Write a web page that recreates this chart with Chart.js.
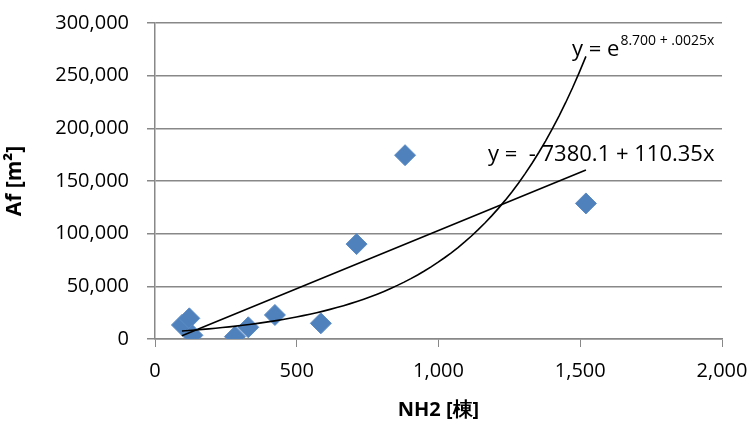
<!DOCTYPE html>
<html>
<head>
<meta charset="utf-8">
<script src="https://cdn.jsdelivr.net/npm/chart.js@4"></script>
<style>
  html, body { margin: 0; padding: 0; background: #fff; }
  #wrap { width: 751px; height: 428px; }
</style>
</head>
<body>
<div id="wrap"><canvas id="scatterChart" width="751" height="428"></canvas></div>
<script>
// number of houses (NH2) vs floor area (Af)
const nh2 = [95, 121, 132, 282, 329, 423, 585, 711, 882, 1520];
const af = [13300, 19600, 3500, 2200, 11100, 22800, 14900, 90100, 174500, 128700];

const xTicks = [0, 500, 1000, 1500, 2000];
const yTicks = [0, 50000, 100000, 150000, 200000, 250000, 300000];

// trend line coefficients (as printed on the chart)
const linA = -7380.1, linB = 110.35;
const expA = 8.700, expB = 0.0025;

const xMin = Math.min(...nh2), xMax = Math.max(...nh2);

const linLine = [xMin, xMax].map(x => ({ x: x, y: linA + linB * x }));
const expLine = [];
for (let i = 0; i <= 60; i++) {
    const x = xMin + (xMax - xMin) * i / 60;
    expLine.push({ x: x, y: Math.exp(expA + expB * x) });
}

const FONT = "'Open Sans', 'Liberation Sans', sans-serif";
const fmt = v => v.toLocaleString('en-US');

// equation labels next to the trend lines
const equationLabels = {
    id: 'equationLabels',
    afterDraw(chart) {
        const ctx = chart.ctx;
        const area = chart.chartArea;
        ctx.save();
        ctx.fillStyle = '#000';
        ctx.textBaseline = 'alphabetic';

        // exponential
        let x = area.right - 150, y = 56;
        ctx.font = '22px ' + FONT;
        ctx.fillText('y = e', x, y);
        x += ctx.measureText('y = e').width + 1;
        ctx.font = '14px ' + FONT;
        ctx.fillText('8.700 + .0025x', x, y - 11);

        // linear
        ctx.font = '22px ' + FONT;
        ctx.fillText('y =  - 7380.1 + 110.35x', area.right - 234, 161);
        ctx.restore();
    }
};

const ctx = document.getElementById('scatterChart').getContext('2d');
const scatterChart = new Chart(ctx, {
    type: 'scatter',
    data: {
        datasets: [
            {
                label: 'Af',
                data: nh2.map((x, i) => ({ x: x, y: af[i] })),
                pointStyle: 'rectRot',
                pointRadius: 10.5,
                pointHoverRadius: 10.5,
                backgroundColor: '#4F81BD',
                borderColor: '#5b8cc6',
                borderWidth: 1,
                order: 2
            },
            {
                label: 'linear',
                data: linLine,
                showLine: true,
                pointRadius: 0,
                borderColor: '#000',
                borderWidth: 1.6,
                order: 1
            },
            {
                label: 'exp',
                data: expLine,
                showLine: true,
                pointRadius: 0,
                borderColor: '#000',
                borderWidth: 1.6,
                tension: 0,
                order: 1
            }
        ]
    },
    options: {
        responsive: false,
        animation: false,
        layout: { padding: { left: 0, right: 29, top: 23, bottom: 0 } },
        plugins: {
            legend: { display: false },
            tooltip: { enabled: false }
        },
        scales: {
            x: {
                type: 'linear',
                min: 0,
                max: 2000,
                afterBuildTicks: s => { s.ticks = xTicks.map(v => ({ value: v })); },
                afterFit: s => { s.height = 89; s.paddingLeft = 0; s.paddingRight = 0; },
                grid: { drawOnChartArea: false, drawTicks: true, tickLength: 8, color: '#888' },
                border: { color: '#888', width: 1.5 },
                ticks: { color: '#000', font: { family: FONT, size: 20 }, padding: 12, maxRotation: 0, callback: v => fmt(v) },
                title: { display: true, text: 'NH2 [棟]', color: '#000', font: { family: FONT, size: 20, weight: 'bold' }, padding: { top: 4, bottom: 6 } }
            },
            y: {
                type: 'linear',
                min: 0,
                max: 300000,
                afterBuildTicks: s => { s.ticks = yTicks.map(v => ({ value: v })); },
                afterFit: s => { s.width = 155; s.paddingTop = 0; s.paddingBottom = 0; },
                grid: { color: '#888', lineWidth: 1.5, tickLength: 8 },
                border: { color: '#888', width: 1.5 },
                ticks: { color: '#000', font: { family: FONT, size: 20 }, padding: 18, callback: v => fmt(v) },
                title: { display: true, text: 'Af [m²]', color: '#000', font: { family: FONT, size: 21, weight: 'bold' }, padding: { top: 2, bottom: 0 } }
            }
        }
    },
    plugins: [equationLabels]
});
</script>
</body>
</html>
